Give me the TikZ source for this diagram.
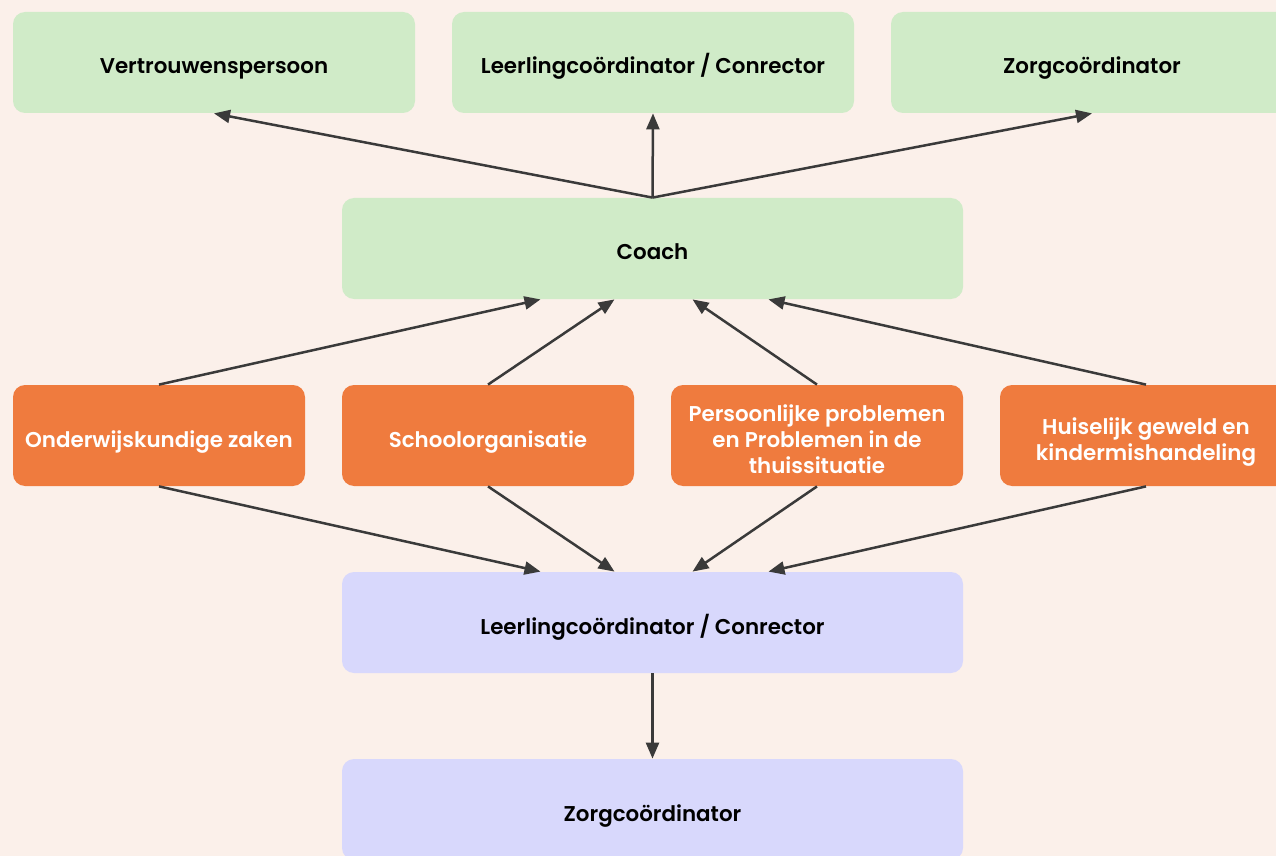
\documentclass[tikz,border=0pt]{standalone}
\usepackage{fontspec}
\setmainfont{Poppins}[BoldFont={Poppins SemiBold}]
\usetikzlibrary{arrows.meta}
\definecolor{bgcol}{HTML}{FBF0EA}
\definecolor{greenbox}{HTML}{D0EBC8}
\definecolor{orangebox}{HTML}{EF7B3E}
\definecolor{purplebox}{HTML}{D8D8FC}
\definecolor{arrowcol}{HTML}{3A3A3A}
\newcommand{\boxstrut}{\rule[-3pt]{0pt}{17.5pt}}
\tikzset{
  box/.style={rectangle, rounded corners=6pt, minimum height=50.5pt, inner sep=2pt,
    font=\bfseries\fontsize{10.7}{13}\selectfont, align=center,
    execute at begin node=\boxstrut, execute at end node=\boxstrut},
  greenbox/.style={box, fill=greenbox, minimum width=201pt},
  orangebox/.style={box, fill=orangebox, text=white, minimum width=146pt},
  purplebox/.style={box, fill=purplebox, minimum width=310.5pt},
  arr/.style={draw=arrowcol, line width=1.25pt, -{Triangle[length=8pt,width=6.5pt]}}
}
\begin{document}
	\begin{tikzpicture}[x=0.5pt, y=-0.5pt]
		\useasboundingbox (0,0) rectangle (1276,856);
		\fill[bgcol] (0,0) rectangle (1276,856);

		\node[greenbox] (vp) at (214, 62.5) {Vertrouwenspersoon};
		\node[greenbox] (lc1) at (653, 62.5) {Leerlingcoördinator / Conrector};
		\node[greenbox] (zc1) at (1092, 62.5) {Zorgcoördinator};
		\node[greenbox, minimum width=310.5pt] (coach) at (652.5, 248.5) {Coach};

		\node[orangebox] (ond) at (159, 435.5) {Onderwijskundige zaken};
		\node[orangebox] (sch) at (488, 435.5) {Schoolorganisatie};
		\node[orangebox] (pers) at (817, 435.5) {\boxstrut Persoonlijke problemen\\en Problemen in de\\thuissituatie};
		\node[orangebox] (huis) at (1146, 435.5) {\boxstrut Huiselijk geweld en\\kindermishandeling};

		\node[purplebox] (lc2) at (652.5, 622.5) {Leerlingcoördinator / Conrector};
		\node[purplebox] (zc2) at (652.5, 809.5) {Zorgcoördinator};

		\draw[arr] (coach.north) -- (vp.south);
		\draw[arr] (coach.north) -- (lc1.south);
		\draw[arr] (coach.north) -- (zc1.south);

		\draw[arr] (ond.north) -- ([xshift=-56pt]coach.south);
		\draw[arr] (sch.north) -- ([xshift=-19pt]coach.south);
		\draw[arr] (pers.north) -- ([xshift=20pt]coach.south);
		\draw[arr] (huis.north) -- ([xshift=58pt]coach.south);

		\draw[arr] (ond.south) -- ([xshift=-56pt]lc2.north);
		\draw[arr] (sch.south) -- ([xshift=-19pt]lc2.north);
		\draw[arr] (pers.south) -- ([xshift=20pt]lc2.north);
		\draw[arr] (huis.south) -- ([xshift=58pt]lc2.north);

		\draw[arr] (lc2.south) -- (zc2.north);

	\end{tikzpicture}
\end{document}
